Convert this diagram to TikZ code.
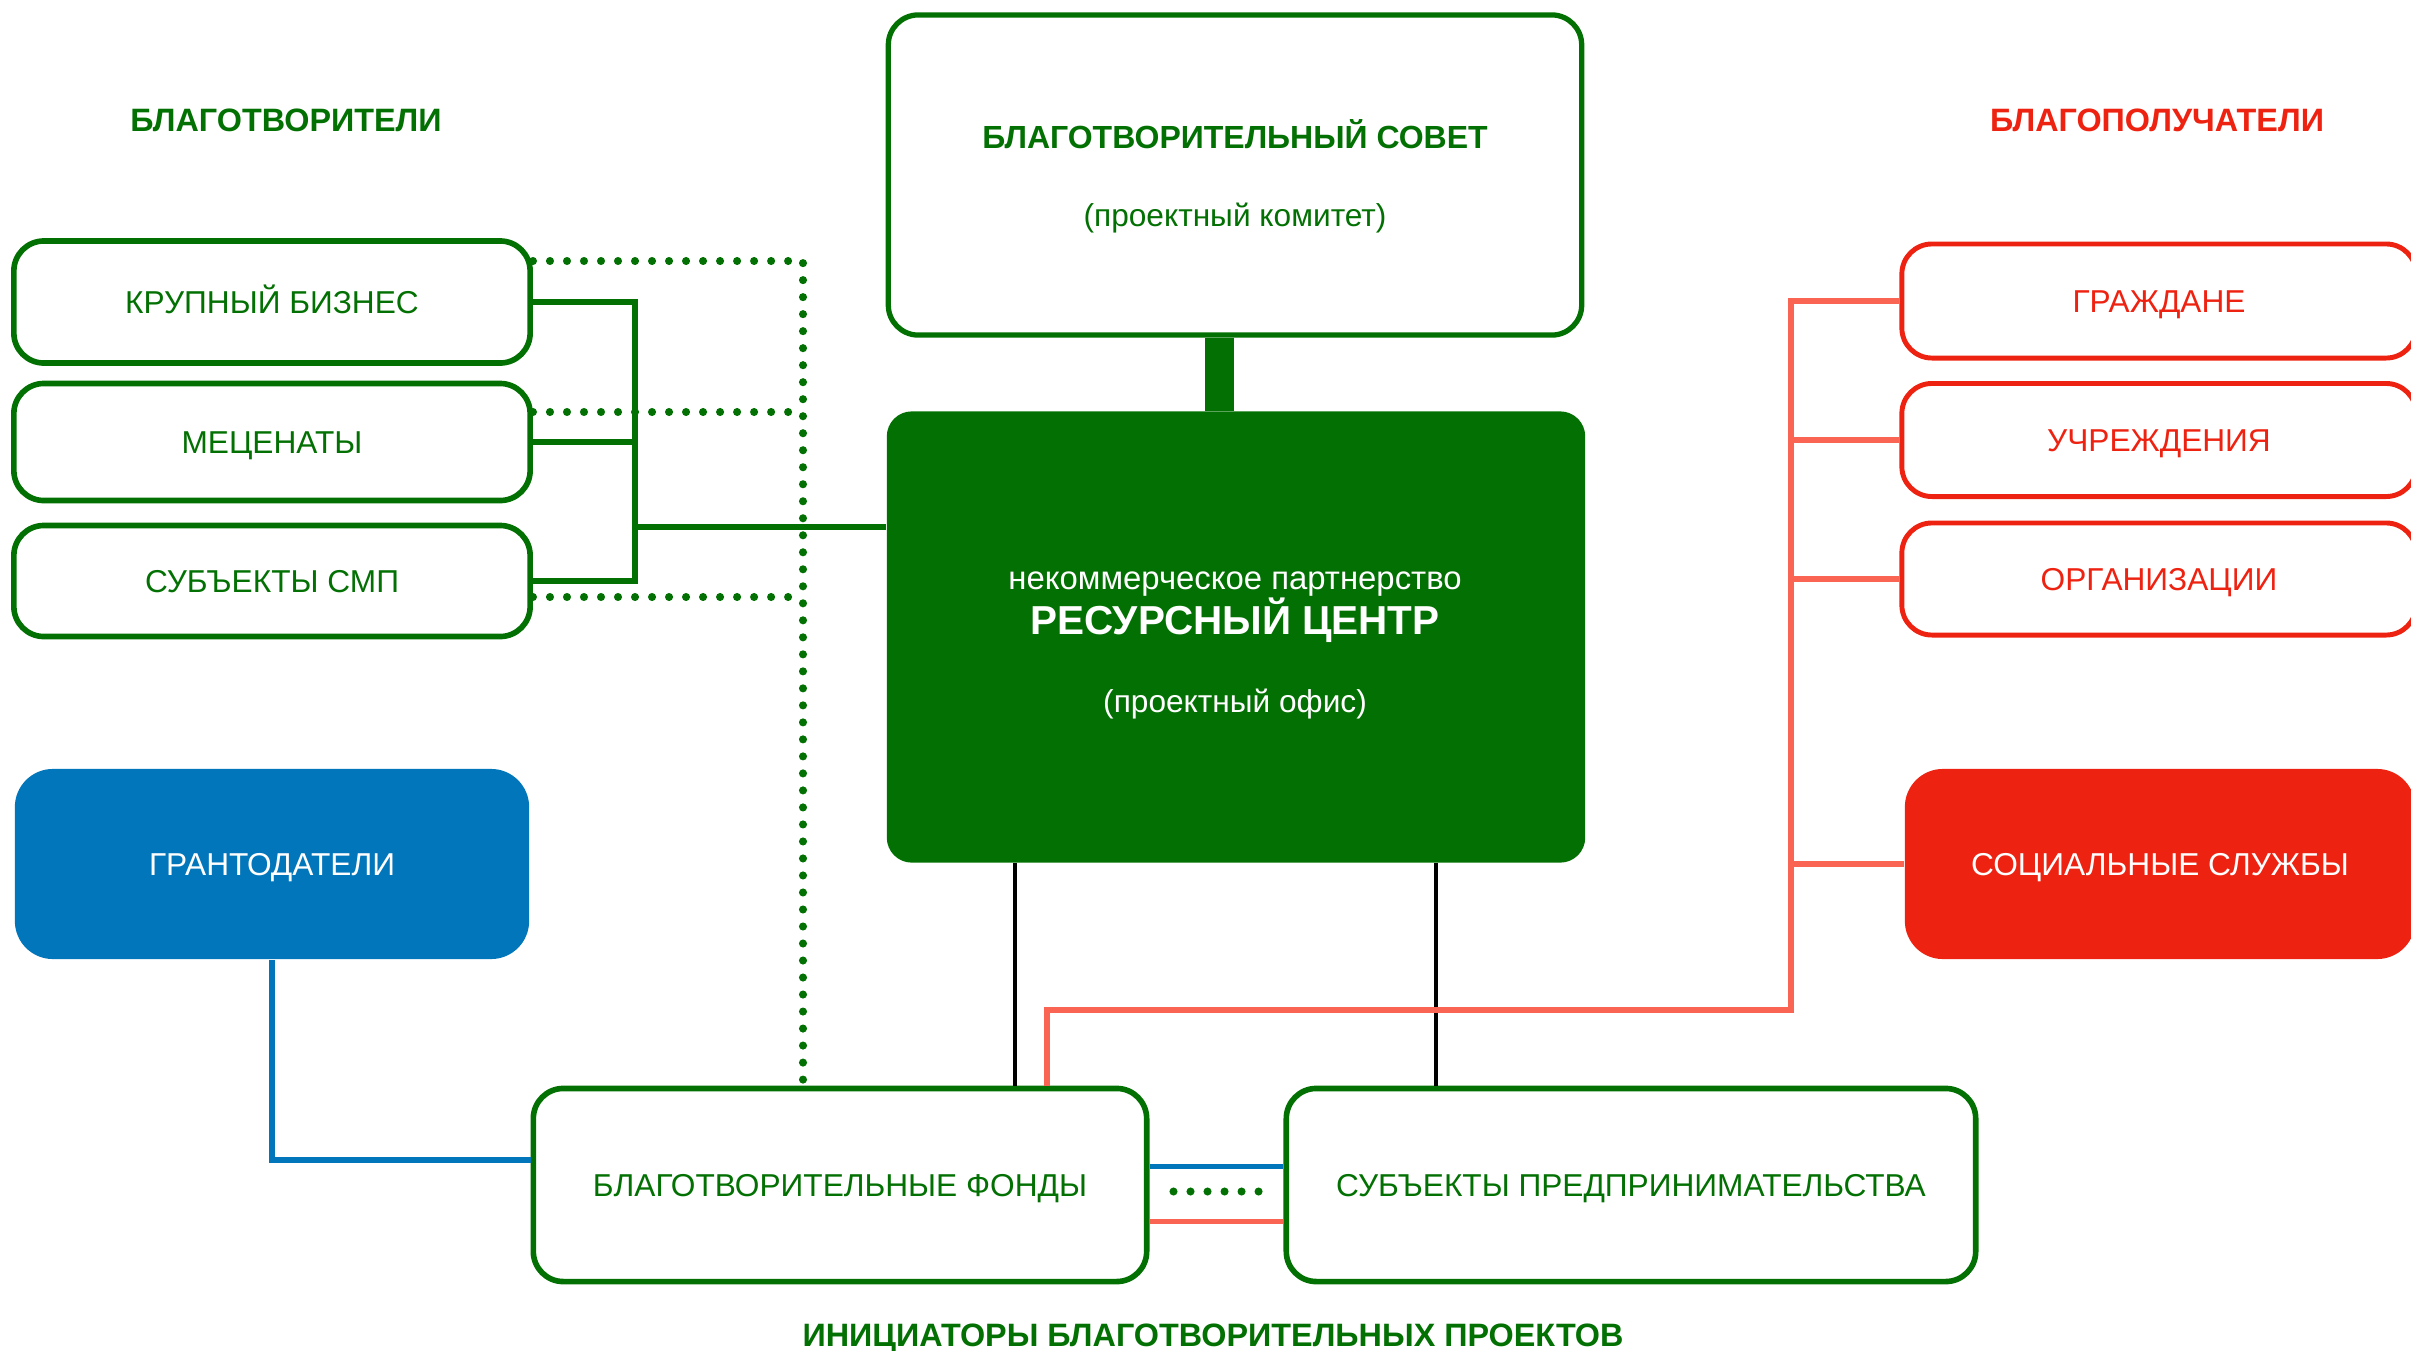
\documentclass[tikz,border=0pt]{standalone}
\usepackage{fontspec}
\setmainfont{Liberation Sans}
\definecolor{leafgreen}{RGB}{3,112,3}
\definecolor{alarmred}{RGB}{238,34,17}
\definecolor{salmon}{RGB}{250,100,82}
\definecolor{grantblue}{RGB}{2,118,187}
\begin{document}
\begin{tikzpicture}[x=0.01cm,y=-0.01cm,
  txt/.style={font=\fontsize{9}{11}\selectfont,inner sep=0pt,text height=6.4pt,text depth=0pt},
  heading/.style={font=\fontsize{9.2}{11}\selectfont\bfseries,inner sep=0pt,text height=6.6pt,text depth=0pt},
  giver/.style={txt,draw=leafgreen,line width=1.6pt,rounded corners=0.3cm,text=leafgreen,minimum width=5.16cm},
  taker/.style={txt,draw=alarmred,line width=1.4pt,rounded corners=0.3cm,text=alarmred,minimum width=5.14cm},
  initiator/.style={txt,draw=leafgreen,line width=1.6pt,rounded corners=0.3cm,text=leafgreen,minimum height=1.93cm},
  bracket/.style={leafgreen,line width=1.6pt},
  dots/.style={leafgreen,line width=2.3pt,line cap=round,dash pattern=on 0pt off 0.17cm},
  recip/.style={salmon,line width=1.6pt},
  grantline/.style={grantblue,line width=1.6pt},
  link/.style={black,line width=1.1pt}]
\useasboundingbox (0,0) rectangle (2411,1351);

% Group headings
\node[heading,text=leafgreen] (givers) at (286,120) {БЛАГОТВОРИТЕЛИ};
\node[heading,text=alarmred] (takers) at (2157,120) {БЛАГОПОЛУЧАТЕЛИ};
\node[heading,text=leafgreen] (initiators) at (1213,1335) {ИНИЦИАТОРЫ БЛАГОТВОРИТЕЛЬНЫХ ПРОЕКТОВ};

% Benefactors
\node[giver,minimum height=1.22cm] (big) at (272,302) {КРУПНЫЙ БИЗНЕС};
\node[giver,minimum height=1.17cm] (patrons) at (272,442) {МЕЦЕНАТЫ};
\node[giver,minimum height=1.11cm] (smp) at (272,581) {СУБЪЕКТЫ СМП};
\node[txt,fill=grantblue,text=white,rounded corners=0.38cm,minimum width=5.14cm,minimum height=1.9cm] (grant) at (272,864) {ГРАНТОДАТЕЛИ};

% Council and resource centre
\node[txt,draw=leafgreen,line width=1.5pt,rounded corners=0.3cm,minimum width=6.93cm,minimum height=3.2cm] (council) at (1235,175) {};
\node[heading,text=leafgreen,font=\fontsize{9.1}{11}\selectfont\bfseries] (counciltitle) at (1235,137) {БЛАГОТВОРИТЕЛЬНЫЙ СОВЕТ};
\node[txt,text=leafgreen] (councilsub) at (1235,215) {(проектный комитет)};
\node[txt,fill=leafgreen,rounded corners=0.25cm,minimum width=6.98cm,minimum height=4.51cm] (centre) at (1236,637) {};
\node[txt,text=white,font=\fontsize{9.35}{11}\selectfont] (centretop) at (1235,578) {некоммерческое партнерство};
\node[heading,text=white,font=\fontsize{11.5}{13}\selectfont\bfseries,text height=8.2pt] (centretitle) at (1235,620) {РЕСУРСНЫЙ ЦЕНТР};
\node[txt,text=white] (centresub) at (1235,701) {(проектный офис)};

% Beneficiaries
\node[taker,minimum height=1.14cm] (citizens) at (2159,301) {ГРАЖДАНЕ};
\node[taker,minimum height=1.13cm] (inst) at (2159,440) {УЧРЕЖДЕНИЯ};
\node[taker,minimum height=1.12cm] (orgs) at (2159,579) {ОРГАНИЗАЦИИ};
\node[txt,fill=alarmred,text=white,rounded corners=0.38cm,minimum width=5.1cm,minimum height=1.9cm] (social) at (2160,864) {СОЦИАЛЬНЫЕ СЛУЖБЫ};

% Initiators
\node[initiator,minimum width=6.13cm] (funds) at (840,1185) {БЛАГОТВОРИТЕЛЬНЫЕ ФОНДЫ};
\node[initiator,minimum width=6.89cm] (business) at (1631,1185) {СУБЪЕКТЫ ПРЕДПРИНИМАТЕЛЬСТВА};

% Council to centre
\coordinate (stem) at (1219,0);
\draw[leafgreen,line width=0.29cm] (council.south -| stem) -- (centre.north -| stem);

% Benefactor bracket
\coordinate (brk) at (635,527);
\draw[bracket] (big.east) -- (big.east -| brk) -- (smp.east -| brk) -- (smp.east);
\draw[bracket] (patrons.east) -- (patrons.east -| brk);
\draw[bracket] (brk) -- (brk -| centre.west);

% Dotted links to the funds
\coordinate (dtop) at (803,261);
\coordinate (dmid) at (803,412);
\coordinate (dlow) at (803,597);
\draw[dots] (big.east |- dtop) -- (dtop) -- (dtop |- funds.north);
\draw[dots] (patrons.east |- dmid) -- (dmid);
\draw[dots] (smp.east |- dlow) -- (dlow);

% Grant givers
\draw[grantline] (grant.south) |- ([yshift=0.25cm]funds.west);

% Centre to initiators
\coordinate (bl1) at (1015,0);
\coordinate (bl2) at (1436,0);
\draw[link] (centre.south -| bl1) -- (funds.north -| bl1);
\draw[link] (centre.south -| bl2) -- (business.north -| bl2);

% Beneficiary bus
\coordinate (rfoot) at (1047,0);
\coordinate (rbus) at (1791,1010);
\draw[recip] (funds.north -| rfoot) |- (rbus) -- (rbus |- citizens.west) -- (citizens.west);
\draw[recip] (rbus |- inst.west) -- (inst.west);
\draw[recip] (rbus |- orgs.west) -- (orgs.west);
\draw[recip] (rbus |- social.west) -- (social.west);

% Between the initiators
\draw[grantline] ([yshift=0.185cm]funds.east) -- ([yshift=0.185cm]business.west);
\draw[dots] ([xshift=0.24cm,yshift=-0.065cm]funds.east) -- ([xshift=-0.16cm,yshift=-0.065cm]business.west);
\draw[recip] ([yshift=-0.365cm]funds.east) -- ([yshift=-0.365cm]business.west);
\end{tikzpicture}
\end{document}
